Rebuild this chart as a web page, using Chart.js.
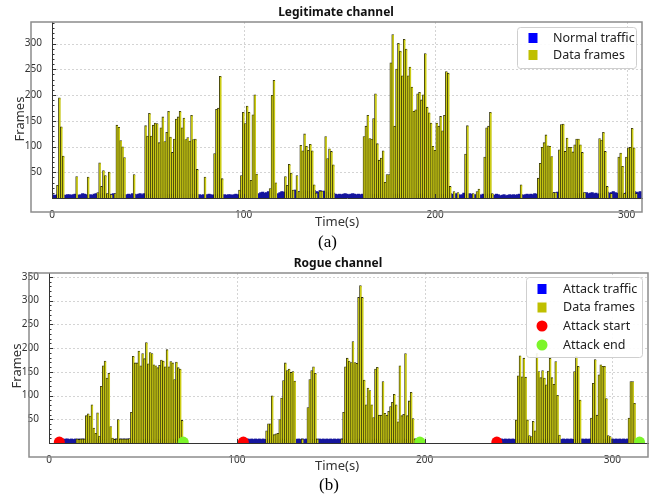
<!DOCTYPE html>
<html>
<head>
<meta charset="utf-8">
<script src="https://cdn.jsdelivr.net/npm/chart.js@4.4.0/dist/chart.umd.min.js"></script>
<style>
  body { margin: 0; background: #fff; width: 657px; height: 496px; position: relative; overflow: hidden; }
  canvas { position: absolute; left: 0; }
  #chartLegit { top: 0; }
  #chartRogue { top: 250px; }
  .cap { position: absolute; font-family: "Liberation Serif", "DejaVu Serif", serif; font-size: 17px; color: #000; line-height: 20px; }
</style>
</head>
<body>
<canvas id="chartLegit" width="657" height="250"></canvas>
<canvas id="chartRogue" width="657" height="246"></canvas>
<div class="cap" style="left:318px;top:232px">(a)</div>
<div class="cap" style="left:319px;top:475px">(b)</div>
<script>
// tick labels
var xTicks = [0, 100, 200, 300];
var legitYTicks = [50, 100, 150, 200, 250, 300];
var rogueYTicks = [50, 100, 150, 200, 250, 300, 350];

// legitimate channel, one value per second (t = 0..308)
var legitData = [
    0, 0, 0, 24, 194, 138, 81, 0, 0, 0,
    0, 0, 0, 41, 0, 0, 0, 0, 0, 40,
    0, 0, 0, 0, 10, 68, 22, 53, 43, 8,
    50, 6, 0, 8, 141, 137, 111, 99, 78, 0,
    0, 0, 0, 45, 0, 0, 0, 0, 0, 140,
    120, 164, 120, 141, 145, 144, 107, 136, 157, 109,
    127, 168, 118, 88, 114, 153, 157, 168, 136, 155,
    113, 117, 110, 160, 113, 114, 55, 0, 0, 0,
    40, 0, 0, 0, 0, 86, 172, 174, 236, 37,
    0, 0, 0, 0, 0, 0, 0, 0, 15, 43,
    166, 144, 178, 166, 34, 161, 200, 46, 0, 0,
    0, 0, 0, 0, 18, 199, 228, 29, 0, 0,
    0, 0, 41, 24, 65, 48, 15, 0, 43, 12,
    102, 91, 124, 100, 92, 104, 91, 25, 9, 0,
    13, 13, 0, 119, 76, 95, 90, 64, 0, 0,
    0, 0, 0, 0, 0, 0, 0, 0, 0, 0,
    0, 0, 0, 119, 139, 160, 115, 114, 154, 202,
    105, 73, 77, 91, 30, 45, 45, 262, 317, 139,
    250, 300, 285, 237, 308, 289, 237, 254, 215, 168,
    171, 202, 205, 190, 200, 280, 176, 165, 145, 100,
    92, 145, 139, 158, 130, 160, 245, 242, 22, 0,
    12, 0, 10, 0, 0, 0, 85, 140, 0, 0,
    8, 0, 12, 17, 0, 0, 79, 136, 139, 166,
    8, 0, 0, 0, 0, 0, 0, 0, 0, 0,
    0, 0, 0, 0, 0, 25, 0, 0, 0, 0,
    0, 0, 0, 0, 38, 67, 98, 107, 122, 101,
    100, 80, 10, 10, 0, 93, 142, 143, 90, 116,
    98, 98, 89, 103, 114, 114, 103, 88, 10, 0,
    0, 0, 0, 0, 0, 0, 115, 112, 127, 90,
    22, 0, 8, 0, 0, 0, 79, 87, 61, 8,
    79, 97, 98, 135, 97, 8, 0, 0, 0
];
var legitTraffic = [
    6, 5, 5, 6, 7, 6, 5, 5, 6, 6,
    5, 6, 7, 6, 5, 6, 8, 7, 6, 5,
    6, 5, 7, 8, 7, 6, 7, 8, 6, 7,
    7, 6, 8, 7, 6, 7, 5, 6, 5, 6,
    7, 6, 8, 7, 6, 7, 8, 6, 8, 7,
    6, 7, 6, 7, 6, 7, 6, 7, 6, 7,
    6, 7, 6, 7, 6, 7, 6, 7, 6, 7,
    6, 7, 6, 7, 6, 7, 6, 6, 5, 6,
    5, 6, 7, 6, 5, 6, 6, 7, 6, 5,
    6, 5, 6, 6, 5, 6, 7, 6, 5, 6,
    6, 7, 6, 7, 6, 7, 6, 7, 8, 10,
    11, 9, 10, 12, 10, 8, 7, 6, 8, 10,
    12, 11, 10, 11, 12, 14, 13, 15, 12, 11,
    10, 12, 14, 11, 13, 12, 10, 14, 12, 11,
    14, 12, 13, 11, 10, 9, 8, 9, 7, 6,
    7, 6, 7, 8, 7, 6, 7, 8, 7, 6,
    7, 6, 7, 6, 7, 6, 7, 6, 7, 6,
    7, 6, 7, 6, 7, 6, 7, 6, 7, 6,
    7, 7, 7, 7, 7, 7, 7, 7, 7, 7,
    7, 7, 7, 7, 7, 7, 7, 7, 7, 7,
    7, 6, 7, 6, 7, 6, 7, 6, 8, 7,
    6, 8, 7, 5, 6, 9, 7, 6, 8, 7,
    5, 6, 7, 6, 5, 7, 6, 7, 6, 7,
    6, 5, 7, 6, 4, 5, 6, 4, 5, 6,
    5, 6, 5, 6, 7, 6, 5, 6, 7, 6,
    7, 6, 8, 7, 6, 7, 8, 7, 9, 8,
    8, 9, 10, 8, 11, 9, 8, 7, 8, 7,
    7, 8, 7, 8, 7, 8, 7, 8, 9, 10,
    8, 9, 10, 8, 9, 7, 8, 7, 8, 10,
    11, 9, 10, 12, 10, 9, 8, 10, 9, 8,
    10, 11, 9, 10, 12, 11, 10, 12, 11
];

// rogue channel, one value per second (t = 0..319)
var rogueData = [
    0, 0, 0, 0, 0, 0, 0, 0, 0, 0,
    0, 0, 0, 0, 0, 8, 7, 8, 8, 8,
    57, 61, 56, 80, 31, 20, 63, 14, 119, 162,
    172, 136, 146, 34, 10, 7, 8, 49, 8, 8,
    8, 8, 8, 9, 64, 182, 168, 168, 193, 162,
    188, 177, 211, 166, 190, 188, 164, 162, 158, 163,
    174, 172, 160, 196, 160, 171, 168, 133, 170, 158,
    155, 47, 0, 0, 0, 0, 0, 0, 0, 0,
    0, 0, 0, 0, 0, 0, 0, 0, 0, 0,
    0, 0, 0, 0, 0, 0, 0, 0, 0, 0,
    0, 0, 0, 0, 0, 0, 0, 0, 0, 0,
    0, 0, 0, 0, 0, 0, 25, 40, 40, 99,
    17, 19, 20, 49, 94, 131, 168, 152, 155, 148,
    150, 130, 0, 0, 0, 8, 0, 0, 74, 133,
    152, 160, 146, 8, 0, 0, 0, 0, 0, 0,
    0, 0, 0, 0, 0, 0, 8, 64, 160, 178,
    172, 169, 213, 169, 167, 306, 331, 306, 132, 80,
    115, 110, 80, 53, 155, 159, 58, 58, 129, 62,
    58, 66, 76, 85, 102, 80, 44, 162, 57, 60,
    188, 57, 88, 106, 51, 8, 0, 0, 0, 0,
    0, 0, 0, 0, 0, 0, 0, 0, 0, 0,
    0, 0, 0, 0, 0, 0, 0, 0, 0, 0,
    0, 0, 0, 0, 0, 0, 0, 0, 0, 0,
    0, 0, 0, 0, 0, 0, 0, 0, 0, 0,
    0, 0, 0, 0, 0, 0, 0, 0, 0, 48,
    141, 183, 139, 178, 138, 48, 15, 13, 45, 25,
    188, 150, 137, 152, 136, 122, 151, 178, 137, 123,
    171, 100, 16, 0, 0, 0, 0, 0, 0, 0,
    150, 182, 161, 90, 0, 0, 0, 0, 0, 52,
    125, 175, 58, 143, 164, 161, 161, 93, 15, 13,
    0, 0, 0, 0, 0, 0, 0, 0, 0, 52,
    129, 129, 83, 0, 0, 0, 0, 0, 0, 0
];
var rogueTraffic = [
    0, 0, 0, 0, 0, 0, 7, 8, 7, 8,
    8, 7, 8, 7, 8, 7, 8, 7, 8, 7,
    7, 8, 7, 7, 8, 7, 7, 8, 7, 7,
    7, 7, 8, 7, 8, 7, 8, 7, 8, 7,
    8, 7, 8, 7, 7, 8, 7, 7, 7, 8,
    7, 7, 8, 7, 7, 7, 8, 7, 7, 7,
    8, 7, 7, 7, 8, 7, 7, 8, 7, 7,
    7, 8, 0, 0, 0, 0, 0, 0, 0, 0,
    0, 0, 0, 0, 0, 0, 0, 0, 0, 0,
    0, 0, 0, 0, 0, 0, 0, 0, 0, 0,
    0, 0, 0, 0, 8, 7, 8, 7, 8, 7,
    8, 7, 8, 7, 8, 7, 7, 8, 7, 7,
    7, 8, 7, 7, 8, 7, 7, 8, 7, 7,
    7, 8, 7, 8, 7, 8, 7, 8, 7, 7,
    7, 7, 8, 7, 8, 7, 8, 7, 8, 7,
    8, 7, 8, 7, 8, 7, 8, 7, 7, 8,
    7, 7, 8, 7, 7, 8, 7, 7, 8, 7,
    7, 8, 7, 7, 8, 7, 7, 8, 7, 7,
    8, 7, 7, 8, 7, 7, 8, 7, 7, 8,
    7, 7, 8, 7, 7, 8, 7, 8, 0, 0,
    0, 0, 0, 0, 0, 0, 0, 0, 0, 0,
    0, 0, 0, 0, 0, 0, 0, 0, 0, 0,
    0, 0, 0, 0, 0, 0, 0, 0, 0, 0,
    0, 0, 0, 0, 0, 0, 0, 0, 0, 8,
    7, 8, 7, 8, 7, 8, 7, 8, 7, 7,
    7, 8, 7, 7, 8, 7, 7, 8, 7, 7,
    8, 7, 7, 8, 7, 7, 8, 7, 7, 8,
    7, 7, 8, 7, 8, 7, 8, 7, 8, 7,
    7, 7, 8, 7, 8, 7, 8, 7, 8, 7,
    7, 8, 7, 7, 8, 7, 7, 8, 7, 7,
    8, 7, 8, 7, 8, 7, 8, 7, 8, 7,
    7, 8, 7, 7, 8, 0, 0, 0, 0, 0
];
var attackStart = [5.5, 103.5, 238.5];
var attackEnd = [71.5, 197.5, 314.5];

var FONT = '"Noto Sans", "DejaVu Sans", sans-serif';

function toPoints(values) {
    return values.map(function (v, i) {
        return { x: i, y: v > 0 ? v : null };
    });
}

function markerPoints(times) {
    return times.map(function (t) { return { x: t, y: 2 }; });
}

// frame, dotted grid, minor ticks, titles and the legend box
function makeDeco(cfg) {
    return {
        id: 'deco',
        beforeDatasetsDraw: function (chart) {
            var ctx = chart.ctx, area = chart.chartArea;
            var xs = chart.scales.x, ys = chart.scales.y;
            ctx.save();
            ctx.strokeStyle = '#d4d4d4';
            ctx.lineWidth = 1;
            ctx.setLineDash([2, 2]);
            cfg.yTicks.forEach(function (v) {
                var y = Math.round(ys.getPixelForValue(v)) + 0.5;
                ctx.beginPath(); ctx.moveTo(area.left, y); ctx.lineTo(area.right, y); ctx.stroke();
            });
            xTicks.forEach(function (v) {
                if (v === 0) return;
                var x = Math.round(xs.getPixelForValue(v)) + 0.5;
                ctx.beginPath(); ctx.moveTo(x, area.top); ctx.lineTo(x, area.bottom); ctx.stroke();
            });
            ctx.restore();
        },
        afterDraw: function (chart) {
            var ctx = chart.ctx, area = chart.chartArea;
            var ys = chart.scales.y, xs = chart.scales.x;
            var f = cfg.frame;
            ctx.save();

            ctx.strokeStyle = '#8c8c8c';
            ctx.lineWidth = 1.5;
            ctx.strokeRect(f[0], f[1], f[2] - f[0], f[3] - f[1]);

            // minor ticks on the left spine
            ctx.strokeStyle = '#333';
            ctx.lineWidth = 1;
            for (var v = 10; v < ys.max; v += 10) {
                var y = Math.round(ys.getPixelForValue(v)) + 0.5;
                ctx.beginPath();
                ctx.moveTo(area.left, y);
                ctx.lineTo(area.left + (v % 50 === 0 ? 4 : 2.5), y);
                ctx.stroke();
            }
            xTicks.forEach(function (t) {
                var x = Math.round(xs.getPixelForValue(t)) + 0.5;
                ctx.beginPath(); ctx.moveTo(x, area.bottom); ctx.lineTo(x, area.bottom - 4); ctx.stroke();
            });

            ctx.fillStyle = '#111';
            ctx.textAlign = 'center';
            ctx.textBaseline = 'middle';
            ctx.font = 'bold 12px ' + FONT;
            ctx.fillText(cfg.title, cfg.titlePos[0], cfg.titlePos[1]);

            ctx.fillStyle = '#333';
            ctx.font = '13px ' + FONT;
            ctx.fillText('Time(s)', cfg.xLabelPos[0], cfg.xLabelPos[1]);
            ctx.save();
            ctx.translate(cfg.yLabelPos[0], cfg.yLabelPos[1]);
            ctx.rotate(-Math.PI / 2);
            ctx.fillText('Frames', 0, 0);
            ctx.restore();

            // legend
            var b = cfg.legendBox;
            ctx.fillStyle = 'rgba(255,255,255,0.9)';
            ctx.strokeStyle = '#cfcfcf';
            ctx.lineWidth = 1;
            ctx.beginPath();
            ctx.roundRect(b[0] + 0.5, b[1] + 0.5, b[2], b[3], 3);
            ctx.fill();
            ctx.stroke();
            ctx.font = '12.5px ' + FONT;
            ctx.textAlign = 'left';
            cfg.legend.forEach(function (item, i) {
                var ry = cfg.legendRows[i];
                ctx.fillStyle = item.color;
                if (item.shape === 'circle') {
                    ctx.beginPath();
                    ctx.arc(cfg.legendMarkX, ry, 5.5, 0, Math.PI * 2);
                    ctx.fill();
                } else {
                    ctx.fillRect(cfg.legendMarkX - 4.5, ry - 5, 9, 10);
                }
                ctx.fillStyle = '#222';
                ctx.fillText(item.text, cfg.legendTextX, ry);
            });
            ctx.restore();
        }
    };
}

function barSet(label, values, fill, edge, edgeWidth, order) {
    return {
        label: label,
        data: toPoints(values),
        backgroundColor: fill,
        borderColor: edge,
        borderWidth: edgeWidth,
        borderSkipped: 'start',
        grouped: false,
        barPercentage: 1,
        categoryPercentage: 1,
        inflateAmount: 0.6,
        clip: 0,
        order: order
    };
}

function baseOptions(xMax, yMax, yTicks, yWidth, xHeight, pad) {
    return {
        responsive: false,
        animation: false,
        devicePixelRatio: 1,
        layout: { padding: pad },
        plugins: { legend: { display: false }, tooltip: { enabled: false } },
        scales: {
            x: {
                type: 'linear',
                offset: false,
                min: 0,
                max: xMax,
                afterBuildTicks: function (axis) {
                    axis.ticks = xTicks.map(function (v) { return { value: v }; });
                },
                afterFit: function (axis) { axis.height = xHeight; },
                grid: { display: false, offset: false },
                border: { display: true, color: '#333', width: 1 },
                ticks: { padding: 3, color: '#333', font: { family: FONT, size: 10 }, maxRotation: 0 }
            },
            y: {
                min: 0,
                max: yMax,
                afterBuildTicks: function (axis) {
                    axis.ticks = yTicks.map(function (v) { return { value: v }; });
                },
                afterFit: function (axis) { axis.width = yWidth; },
                grid: { display: false },
                border: { display: true, color: '#333', width: 1 },
                ticks: { padding: 2, color: '#333', font: { family: FONT, size: 10 } }
            }
        }
    };
}

var yellowEdge = { left: 0.8, right: 0, top: 0.8, bottom: 0 };

var chartLegit = new Chart(document.getElementById('chartLegit'), {
    type: 'bar',
    data: {
        datasets: [
            barSet('Normal traffic', legitTraffic, '#15159e', '#15159e', 0, 2),
            barSet('Data frames', legitData, 'rgb(204,204,20)', 'rgba(35,35,0,0.95)', yellowEdge, 1)
        ]
    },
    options: baseOptions(308, 342, legitYTicks, 52, 52, { left: 0, right: 15, top: 22, bottom: 0 }),
    plugins: [makeDeco({
        title: 'Legitimate channel',
        titlePos: [336, 13],
        xLabelPos: [337, 222],
        yLabelPos: [20, 119],
        frame: [31, 22, 642, 212],
        yTicks: legitYTicks,
        legendBox: [517, 27, 119, 41],
        legendRows: [38, 55],
        legendMarkX: 533,
        legendTextX: 553,
        legend: [
            { shape: 'square', color: '#0000ff', text: 'Normal traffic' },
            { shape: 'square', color: '#bfbf00', text: 'Data frames' }
        ]
    })]
});

var chartRogue = new Chart(document.getElementById('chartRogue'), {
    type: 'bar',
    data: {
        datasets: [
            barSet('Attack traffic', rogueTraffic, '#15159e', '#15159e', 0, 2),
            barSet('Data frames', rogueData, 'rgb(204,204,20)', 'rgba(35,35,0,0.95)', yellowEdge, 1),
            {
                type: 'scatter',
                label: 'Attack start',
                data: markerPoints(attackStart),
                backgroundColor: '#ff0000',
                borderWidth: 0,
                pointRadius: 5.5,
                order: 0
            },
            {
                type: 'scatter',
                label: 'Attack end',
                data: markerPoints(attackEnd),
                backgroundColor: '#7cf52a',
                borderWidth: 0,
                pointRadius: 5.5,
                order: 0
            }
        ]
    },
    options: baseOptions(319, 358, rogueYTicks, 49, 53, { left: 0, right: 9, top: 23, bottom: 0 }),
    plugins: [makeDeco({
        title: 'Rogue channel',
        titlePos: [338, 14],
        xLabelPos: [337, 216],
        yLabelPos: [17, 116],
        frame: [29, 23, 648, 207],
        yTicks: rogueYTicks,
        legendBox: [526, 27, 116, 80],
        legendRows: [39, 57.5, 76, 95],
        legendMarkX: 542,
        legendTextX: 563,
        legend: [
            { shape: 'square', color: '#0000ff', text: 'Attack traffic' },
            { shape: 'square', color: '#bfbf00', text: 'Data frames' },
            { shape: 'circle', color: '#ff0000', text: 'Attack start' },
            { shape: 'circle', color: '#7cf52a', text: 'Attack end' }
        ]
    })]
});
</script>
</body>
</html>
